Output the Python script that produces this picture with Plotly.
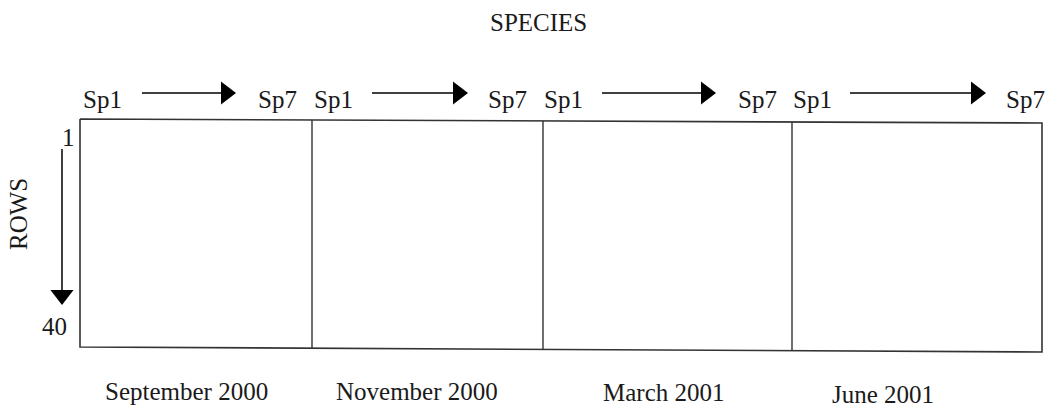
import plotly.graph_objects as go

# categories / labels
months = ["September 2000", "November 2000", "March 2001", "June 2001"]
species_ends = ["Sp1", "Sp7"]
row_ends = ["1", "40"]
col_title = "SPECIES"
row_title = "ROWS"

# layout geometry (pixel coordinates of the page)
W, H = 1051, 407
panel_edges = [80, 312, 543, 792, 1042]
top_left, top_right = 119, 123
bot_left, bot_right = 347, 352

FONT = "Liberation Serif"
INK = "#1a1a1a"


def y_at(x, y_l, y_r):
    return y_l + (y_r - y_l) * (x - panel_edges[0]) / (panel_edges[-1] - panel_edges[0])


fig = go.Figure()

# outer box
box_x = [panel_edges[0], panel_edges[-1], panel_edges[-1], panel_edges[0], panel_edges[0]]
box_y = [top_left, top_right, bot_right, bot_left, top_left]
fig.add_trace(go.Scatter(x=box_x, y=box_y, mode="lines",
                         line=dict(color="#333333", width=1.6), hoverinfo="skip"))

# panel dividers
for x in panel_edges[1:-1]:
    fig.add_trace(go.Scatter(x=[x, x], y=[y_at(x, top_left, top_right), y_at(x, bot_left, bot_right)],
                             mode="lines", line=dict(color="#333333", width=1.4), hoverinfo="skip"))

annotations = []

# species labels and arrows above each panel
sp1_x = [102, 333, 563, 812]
sp7_x = [277, 507, 757, 1025]
arrow_start = [142, 372, 602, 850]
arrow_end = [235, 467, 715, 985]
month_x = [186, 417, 664, 883]
month_y = [391, 391, 392, 394]
for i in range(len(months)):
    annotations.append(dict(x=sp1_x[i], y=99, text=species_ends[0]))
    annotations.append(dict(x=sp7_x[i], y=99, text=species_ends[1]))
    fig.add_trace(go.Scatter(x=[arrow_start[i], arrow_end[i] - 10], y=[93, 93], mode="lines",
                             line=dict(color="black", width=1.5), hoverinfo="skip"))
    fig.add_trace(go.Scatter(x=[arrow_end[i] - 9], y=[93], mode="markers",
                             marker=dict(symbol="triangle-right", size=20, color="black"),
                             hoverinfo="skip"))
    annotations.append(dict(x=month_x[i], y=month_y[i], text=months[i]))

# rows arrow on the left
fig.add_trace(go.Scatter(x=[62, 62], y=[149, 292], mode="lines",
                         line=dict(color="black", width=1.5), hoverinfo="skip"))
fig.add_trace(go.Scatter(x=[62], y=[295], mode="markers",
                         marker=dict(symbol="triangle-down", size=20, color="black"),
                         hoverinfo="skip"))
annotations.append(dict(x=68, y=137, text=row_ends[0]))
annotations.append(dict(x=54, y=326, text=row_ends[1]))
annotations.append(dict(x=18, y=214, text=row_title, textangle=-90))
annotations.append(dict(x=538, y=22, text=col_title))

for a in annotations:
    a.update(xref="x", yref="y", showarrow=False,
             font=dict(family=FONT, size=25, color=INK))

fig.update_layout(
    width=W, height=H,
    margin=dict(l=0, r=0, t=0, b=0),
    paper_bgcolor="white", plot_bgcolor="white",
    showlegend=False,
    annotations=annotations,
    xaxis=dict(range=[0, W], visible=False, fixedrange=True),
    yaxis=dict(range=[H, 0], visible=False, fixedrange=True),
)

# drop the browser's default body margin so page pixels line up with the figure
fig.write_html("out.html", post_script="document.body.style.margin='0';",
               config={"displayModeBar": False})
